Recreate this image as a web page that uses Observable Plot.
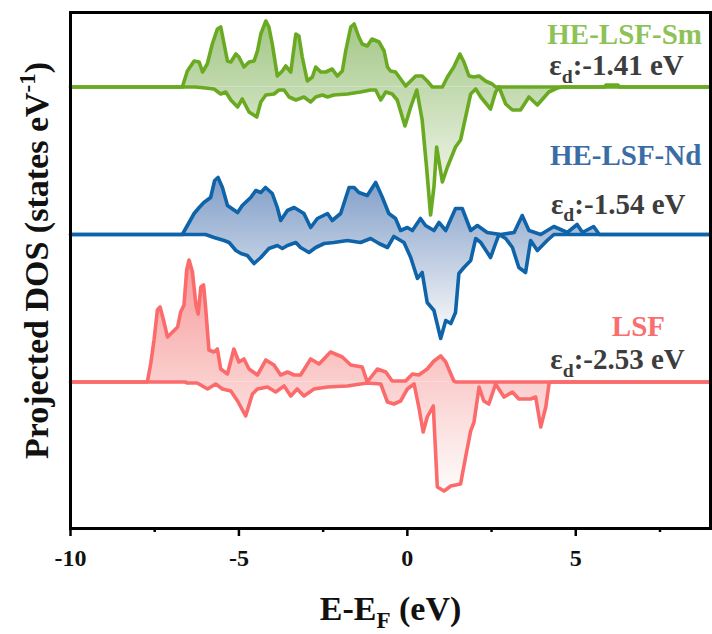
<!DOCTYPE html>
<html>
<head>
<meta charset="utf-8">
<script src="https://cdn.jsdelivr.net/npm/d3@7"></script>
<script src="https://cdn.jsdelivr.net/npm/@observablehq/plot@0.6"></script>
<style>
  html, body { margin: 0; padding: 0; background: #fff; }
</style>
</head>
<body>
<div id="chart"></div>
<script>
// ---- data (E - E_F in eV, projected DOS in arbitrary units; [E, |DOS|]) ----
const names = ["LSF", "HE-LSF-Nd", "HE-LSF-Sm"];
const dBandCenter = ["-2.53", "-1.54", "-1.41"];
const offsets = [0, 147.5, 295];
const lineColors = ["#fb6b6b", "#0f63a8", "#6aaa22"];
const labelColors = ["#fb6e6e", "#3a6da6", "#8dc257"];
const fillTops = ["#f79a9a", "#7f9dc8", "#a2c785"];
const xTicks = [-10, -5, 0, 5];
const xMinorTicks = [-7.5, -2.5, 2.5, 7.5];

const lsfUp = [[-10,0],[-7.72,0],[-7.62,18],[-7.52,42],[-7.42,72],[-7.34,75],[-7.24,62],[-7.12,45],[-6.97,50],[-6.82,55],[-6.73,70],[-6.63,77],[-6.55,112],[-6.48,122],[-6.38,110],[-6.28,78],[-6.21,68],[-6.13,95],[-6.05,97],[-5.99,75],[-5.89,32],[-5.74,30],[-5.64,33],[-5.54,13],[-5.34,8],[-5.15,33],[-5.00,20],[-4.85,23],[-4.70,13],[-4.45,7],[-4.20,22],[-3.96,17],[-3.76,7],[-3.56,10],[-3.36,7],[-3.17,7],[-2.87,23],[-2.62,18],[-2.28,30],[-1.93,25],[-1.68,17],[-1.34,15],[-1.19,0],[-0.89,13],[-0.64,10],[-0.45,1],[-0.05,1],[0.15,8],[0.34,7],[0.59,13],[0.79,21],[0.99,26],[1.14,20],[1.38,1],[1.45,0],[9,0]];
const lsfDown = [[-10,0],[-6.6,0],[-6.53,1],[-6.24,1],[-5.93,7],[-5.69,2],[-5.49,7],[-5.24,9],[-5.04,19],[-4.80,34],[-4.60,12],[-4.45,7],[-4.15,5],[-3.91,10],[-3.66,4],[-3.46,14],[-3.27,7],[-3.07,14],[-2.77,7],[-2.37,5],[-1.78,4],[-1.19,1],[-0.79,2],[-0.59,20],[-0.40,22],[-0.20,19],[0,7],[0.20,2],[0.34,25],[0.47,50],[0.59,35],[0.77,24],[0.89,105],[1.09,109],[1.29,104],[1.58,102],[1.73,75],[1.88,49],[1.98,40],[2.13,5],[2.27,19],[2.42,22],[2.62,2],[2.87,15],[3.12,10],[3.31,17],[3.66,17],[3.81,15],[3.96,45],[4.11,25],[4.21,1],[4.3,0],[9,0]];

const ndUp = [[-10,0],[-6.68,0],[-6.33,21],[-6.18,27],[-6.04,32],[-5.84,37],[-5.72,54],[-5.62,57],[-5.49,47],[-5.34,29],[-5.04,22],[-4.90,29],[-4.65,37],[-4.50,44],[-4.35,42],[-4.21,47],[-4.01,41],[-3.86,27],[-3.76,14],[-3.56,24],[-3.36,27],[-3.07,21],[-2.87,7],[-2.67,16],[-2.37,21],[-2.23,14],[-1.98,21],[-1.73,47],[-1.58,47],[-1.44,42],[-1.19,39],[-0.94,52],[-0.74,37],[-0.55,21],[-0.35,16],[-0.20,4],[0,7],[0.15,4],[0.39,16],[0.54,9],[0.79,4],[0.94,12],[1.14,4],[1.43,26],[1.63,26],[1.88,4],[2.08,9],[2.37,2],[2.77,0],[3.17,2],[3.41,19],[3.61,4],[3.96,0],[4.35,8],[4.75,2],[5.04,10],[5.2,2],[5.53,8],[5.7,0],[9,0]];
const ndDown = [[-10,0],[-5.99,0],[-5.74,3],[-5.44,6],[-5.29,8],[-5.09,16],[-4.94,19],[-4.75,21],[-4.55,29],[-4.35,23],[-4.11,14],[-3.86,11],[-3.71,14],[-3.56,11],[-3.31,8],[-3.17,13],[-2.92,18],[-2.72,13],[-2.47,9],[-2.18,8],[-1.78,6],[-1.39,8],[-1.09,4],[-0.84,9],[-0.59,13],[-0.40,2],[-0.10,8],[0.10,23],[0.30,44],[0.44,38],[0.59,68],[0.79,76],[0.99,104],[1.14,86],[1.29,89],[1.43,78],[1.53,39],[1.68,33],[1.88,26],[2.03,4],[2.18,8],[2.47,23],[2.62,9],[2.72,0],[2.92,4],[3.12,13],[3.31,33],[3.51,38],[3.66,6],[3.86,16],[4.15,6],[4.35,0],[9,0]];

const smUp = [[-10,0],[-6.68,0],[-6.53,16],[-6.33,26],[-6.18,25],[-6.08,15],[-5.94,23],[-5.79,43],[-5.64,58],[-5.54,60],[-5.44,43],[-5.34,26],[-5.24,25],[-5.09,33],[-5.00,30],[-4.85,20],[-4.70,25],[-4.55,26],[-4.45,36],[-4.35,53],[-4.20,66],[-4.11,60],[-4.01,43],[-3.86,11],[-3.71,16],[-3.61,21],[-3.46,15],[-3.31,53],[-3.22,51],[-3.12,30],[-2.97,6],[-2.82,10],[-2.72,20],[-2.57,15],[-2.42,15],[-2.23,18],[-2.08,11],[-1.93,16],[-1.83,36],[-1.68,60],[-1.58,63],[-1.44,50],[-1.34,43],[-1.19,41],[-1.05,48],[-0.84,45],[-0.69,36],[-0.59,20],[-0.50,16],[-0.35,15],[-0.20,8],[-0.05,1],[0.10,6],[0.25,11],[0.44,11],[0.59,6],[0.74,0],[1.04,0],[1.19,10],[1.38,20],[1.56,33],[1.68,25],[1.83,11],[1.98,10],[2.13,11],[2.32,6],[2.52,3],[2.62,0],[5.85,0],[5.9,2],[6.25,2],[6.3,0],[9,0]];
const smDown = [[-10,0],[-6.3,0],[-5.99,1],[-5.74,2],[-5.54,7],[-5.39,5],[-5.24,13],[-5.04,20],[-4.90,12],[-4.70,25],[-4.47,30],[-4.35,15],[-4.20,8],[-3.96,7],[-3.81,3],[-3.66,3],[-3.51,10],[-3.31,13],[-3.07,10],[-2.87,15],[-2.72,10],[-2.52,8],[-2.37,10],[-2.18,8],[-1.78,7],[-1.39,5],[-1.09,3],[-0.94,3],[-0.79,13],[-0.64,5],[-0.45,7],[-0.30,13],[-0.07,39],[0.10,20],[0.28,3],[0.44,33],[0.57,80],[0.69,128],[0.79,100],[0.87,60],[1.04,95],[1.19,80],[1.43,60],[1.58,53],[1.73,30],[1.88,7],[2.03,2],[2.18,10],[2.47,22],[2.62,5],[2.72,0],[2.92,17],[3.12,23],[3.36,23],[3.61,10],[3.86,18],[4.20,5],[4.45,1],[4.6,0],[9,0]];

const ups = [lsfUp, ndUp, smUp];
const downs = [lsfDown, ndDown, smDown];

const series = names.map((name, i) => ({
  key: "s" + i, name, eD: dBandCenter[i], up: ups[i], down: downs[i],
  offset: offsets[i], line: lineColors[i], label: labelColors[i], fillTop: fillTops[i]
}));

const FONT = '"Liberation Serif", "Times New Roman", Times, serif';
const ns = "http://www.w3.org/2000/svg";
const Y_DOMAIN = [-146.5, 369.5];
const M = {top: 12, bottom: 106, left: 70, right: 2};
const W = 712, H = 634;

function gradientDefs(index, scales) {
  const yf = scales && scales.y ? scales.y
    : (v => M.top + (Y_DOMAIN[1] - v) / (Y_DOMAIN[1] - Y_DOMAIN[0]) * (H - M.top - M.bottom));
  const defs = document.createElementNS(ns, "defs");
  for (const s of series) {
    const g = document.createElementNS(ns, "linearGradient");
    g.setAttribute("id", "grad-" + s.key);
    g.setAttribute("gradientUnits", "userSpaceOnUse");
    g.setAttribute("x1", 0); g.setAttribute("x2", 0);
    g.setAttribute("y1", yf(s.offset + d3.max(s.up, d => d[1])));
    g.setAttribute("y2", yf(s.offset - d3.max(s.down, d => d[1])));
    const s0 = document.createElementNS(ns, "stop");
    s0.setAttribute("offset", "0"); s0.setAttribute("stop-color", s.fillTop);
    const s1 = document.createElementNS(ns, "stop");
    s1.setAttribute("offset", "1"); s1.setAttribute("stop-color", "#fdfcfb");
    g.appendChild(s0); g.appendChild(s1);
    defs.appendChild(g);
  }
  return defs;
}

const marks = [gradientDefs];
for (const s of series) {
  marks.push(
    Plot.areaY(s.up, {x: d => d[0], y1: s.offset, y2: d => s.offset + d[1], fill: `url(#grad-${s.key})`, curve: "linear"}),
    Plot.areaY(s.down, {x: d => d[0], y1: s.offset, y2: d => s.offset - d[1], fill: `url(#grad-${s.key})`, curve: "linear"})
  );
}
for (const s of series) {
  marks.push(
    Plot.line(s.up, {x: d => d[0], y: d => s.offset + d[1], stroke: s.line, strokeWidth: 3.6, strokeLinejoin: "round"}),
    Plot.line(s.down, {x: d => d[0], y: d => s.offset - d[1], stroke: s.line, strokeWidth: 3.6, strokeLinejoin: "round"})
  );
}

// series labels
marks.push(
  Plot.text(series, {
    x: [6.86, 6.48, 6.45], y: [46, 217.5, 338],
    text: d => d.name, fill: d => d.label,
    textAnchor: "middle", lineAnchor: "bottom",
    fontSize: 29, fontWeight: "bold", fontFamily: FONT
  }),
  Plot.text(series, {
    x: [6.24, 6.26, 6.21], y: [13, 168.5, 307],
    text: d => `ε_{d}:${d.eD} eV`, fill: "#3d3d3d",
    textAnchor: "middle", lineAnchor: "bottom",
    fontSize: 29, fontWeight: "bold", fontFamily: FONT
  })
);

// axes
marks.push(
  Plot.axisX({ticks: xTicks, tickSize: 8, tickPadding: 12, strokeWidth: 2.5, tickFormat: d => String(d), label: null, fontSize: 24, fontWeight: "bold", fontFamily: FONT, fill: "#111"}),
  Plot.axisX({ticks: xMinorTicks, tickSize: 4, strokeWidth: 2.5, tickFormat: () => "", label: null}),
  Plot.text(["E-E_{F} (eV)"], {frameAnchor: "bottom", dy: 91, lineAnchor: "bottom", textAnchor: "middle", fontSize: 34, fontWeight: "bold", fontFamily: FONT, fill: "#111"}),
  Plot.text(["Projected DOS (states eV^{-1})"], {frameAnchor: "left", dx: -23, dy: -10, rotate: -90, lineAnchor: "bottom", textAnchor: "middle", fontSize: 34, fontWeight: "bold", fontFamily: FONT, fill: "#111"}),
  Plot.frame({stroke: "#000", strokeWidth: 3})
);

const chart = Plot.plot({
  width: W, height: H,
  marginTop: M.top, marginBottom: M.bottom, marginLeft: M.left, marginRight: M.right,
  style: {fontFamily: FONT, background: "#fff", color: "#000"},
  x: {domain: [-10, 9]},
  y: {domain: Y_DOMAIN, axis: null},
  marks
});
document.getElementById("chart").appendChild(chart);

// rich text: _{sub} and ^{sup}
chart.querySelectorAll("text").forEach(t => {
  const s = t.textContent;
  if (!/[_^]\{/.test(s)) return;
  const fs = parseFloat(getComputedStyle(t).fontSize) || 30;
  while (t.firstChild) t.removeChild(t.firstChild);
  let shift = 0;
  for (const p of s.split(/([_^]\{[^}]*\})/)) {
    if (!p) continue;
    const ts = document.createElementNS(ns, "tspan");
    let target = 0, txt = p, small = false;
    if (p.startsWith("_{")) { target = 0.26 * fs; txt = p.slice(2, -1); small = true; }
    else if (p.startsWith("^{")) { target = -0.36 * fs; txt = p.slice(2, -1); small = true; }
    ts.setAttribute("dy", target - shift);
    shift = target;
    if (small) ts.setAttribute("font-size", (fs * 0.68).toFixed(1));
    ts.textContent = txt;
    t.appendChild(ts);
  }
});
</script>
</body>
</html>
